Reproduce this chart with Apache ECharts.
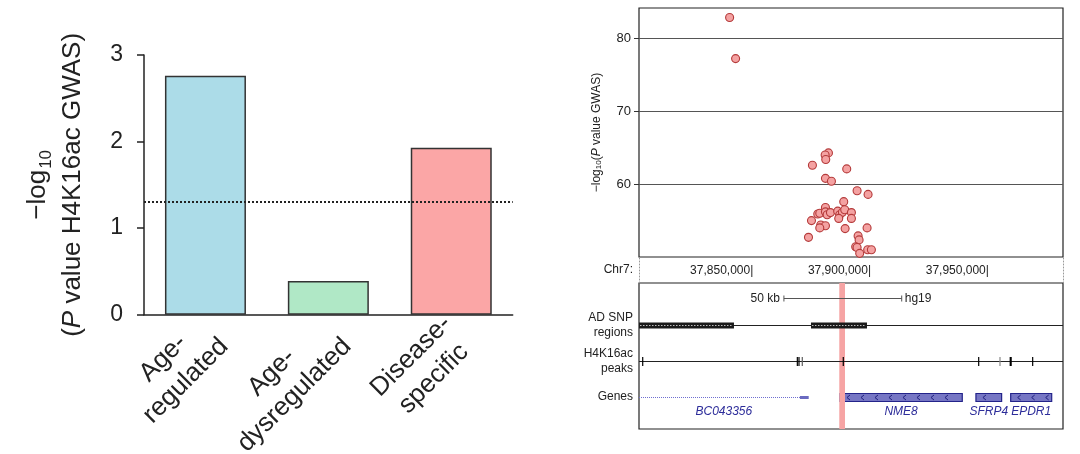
<!DOCTYPE html>
<html><head><meta charset="utf-8">
<script src="https://cdn.jsdelivr.net/npm/echarts@6/dist/echarts.min.js"></script>
<style>html,body{margin:0;padding:0;background:#fff}#c{width:1080px;height:454px}</style>
</head><body><div id="c"></div>
<script>
// ---------- DATA ----------
// Left panel: enrichment bars
const categories = ['Age-\nregulated', 'Age-\ndysregulated', 'Disease-\nspecific'];
const barValues = [2.76, 0.39, 1.93];
const significanceThreshold = 1.30;      // -log10(0.05)
const barTicks = [0, 1, 2, 3];

// Right panel: GWAS SNPs (Chr7 position, -log10 P)
const snpPositions = [37839960, 37842500, 37881900, 37880500, 37880760, 37875100, 37889660, 37880630, 37883170,
  37894060, 37898720, 37888390, 37880630, 37877370, 37878220, 37880630, 37881350, 37882750, 37885840, 37886690,
  37887840, 37888810, 37891650, 37891650, 37886270, 37874700, 37878640, 37880630, 37878220, 37888980, 37898300,
  37873430, 37894490, 37894910, 37893470, 37894060, 37898560, 37900130, 37895170];
const snpLogP = [82.9, 77.25, 64.3, 64.0, 63.4, 62.6, 62.1, 60.8, 60.4,
  59.1, 58.6, 57.6, 56.8, 55.9, 56.0, 56.2, 55.8, 56.1, 56.3, 55.8,
  56.15, 56.5, 56.1, 55.3, 55.3, 55.0, 54.4, 54.3, 54.0, 53.9, 54.0,
  52.7, 52.9, 52.35, 51.4, 51.3, 51.0, 51.0, 50.5];
const gwasTicks = [60, 70, 80];
const chrName = 'Chr7:';
const chrTicks = [37850000, 37900000, 37950000];
const viewStart = 37801500, viewEnd = 37981450;

// Browser tracks
const trackNames = ['AD SNP\nregions', 'H4K16ac\npeaks', 'Genes'];
const assembly = 'hg19';
const scaleBar = [37863000, 37913000];
const snpRegionStarts = [37801500, 37874490];
const snpRegionEnds = [37841810, 37898260];
const peakStarts = [37802900, 37868550, 37869250, 37870650, 37888050, 37945520, 37954560, 37958800, 37968430];
const peakEnds = [37803250, 37868850, 37869550, 37870950, 37888350, 37945820, 37954860, 37959700, 37968730];
const peakScores = [1000, 1000, 1000, 600, 1000, 1000, 400, 1000, 1000];
const geneNames = ['BC043356', 'NME8', 'SFRP4', 'EPDR1'];
const geneStarts = [37801500, 37886800, 37944500, 37959250];
const geneEnds = [37873520, 37938700, 37955400, 37976650];
const geneBlockStarts = [37869800, 37886800, 37944500, 37959250];
const geneCoding = [0, 1, 1, 1];
const highlightRegion = [37886500, 37888930];

// ---------- LAYOUT / STYLE ----------
const FONT = '"Liberation Sans", Arial, Helvetica, sans-serif';
const barColors = ['#acdce8', '#b0e8c6', '#fba6a6'];
const LANE = { scale: 0.41, snp: 1.15, peaks: 2.13, genes: 3.12 };
const laneValues = [LANE.snp, LANE.peaks, LANE.genes];

const chart = echarts.init(document.getElementById('c'), null, { renderer: 'canvas' });

function renderScale(params, api) {
  const s = api.coord([api.value(0), LANE.scale]);
  const e = api.coord([api.value(1), LANE.scale]);
  const y = Math.round(s[1]) + 0.5;
  const kb = Math.round((api.value(1) - api.value(0)) / 1000) + ' kb';
  return { type: 'group', children: [
    { type: 'line', shape: { x1: s[0], y1: y, x2: e[0], y2: y }, style: { stroke: '#555', lineWidth: 1 } },
    { type: 'line', shape: { x1: s[0], y1: y - 3, x2: s[0], y2: y + 3 }, style: { stroke: '#555', lineWidth: 1 } },
    { type: 'line', shape: { x1: e[0], y1: y - 3, x2: e[0], y2: y + 3 }, style: { stroke: '#555', lineWidth: 1 } },
    { type: 'text', x: s[0] - 4, y: y, style: { text: kb, fill: '#222', fontSize: 12, fontFamily: FONT, align: 'right', verticalAlign: 'middle' } },
    { type: 'text', x: e[0] + 3, y: y, style: { text: assembly, fill: '#222', fontSize: 12, fontFamily: FONT, align: 'left', verticalAlign: 'middle' } }
  ]};
}
function renderSnpRegion(params, api) {
  const s = api.coord([api.value(0), LANE.snp]);
  const e = api.coord([api.value(1), LANE.snp]);
  const cs = params.coordSys;
  const y = Math.round(s[1]) + 0.5;
  const ch = [];
  if (params.dataIndex === 0) ch.push({ type: 'line', shape: { x1: cs.x, y1: y, x2: cs.x + cs.width, y2: y }, style: { stroke: '#222', lineWidth: 1 } });
  ch.push({ type: 'rect', shape: { x: s[0], y: y - 3, width: e[0] - s[0], height: 6 }, style: { fill: '#1b1b1b' } });
  ch.push({ type: 'line', shape: { x1: s[0] + 1, y1: y, x2: e[0] - 1, y2: y }, style: { stroke: '#bdbdbd', lineWidth: 1, lineDash: [1.5, 1.5] } });
  return { type: 'group', children: ch };
}
function renderPeak(params, api) {
  const s = api.coord([api.value(0), LANE.peaks]);
  const e = api.coord([api.value(1), LANE.peaks]);
  const cs = params.coordSys;
  const y = Math.round(s[1]) + 0.5;
  const score = api.value(2);
  const ch = [];
  if (params.dataIndex === 0) ch.push({ type: 'line', shape: { x1: cs.x, y1: y, x2: cs.x + cs.width, y2: y }, style: { stroke: '#222', lineWidth: 1 } });
  const w = Math.max(1.2, e[0] - s[0]);
  const g = Math.round(255 * (1 - score / 1000) * 0.9);
  ch.push({ type: 'rect', shape: { x: (s[0] + e[0]) / 2 - w / 2, y: y - 4.5, width: w, height: 9 }, style: { fill: 'rgb(' + g + ',' + g + ',' + g + ')' } });
  return { type: 'group', children: ch };
}
function renderGene(params, api) {
  const s = api.coord([api.value(0), LANE.genes]);
  const e = api.coord([api.value(1), LANE.genes]);
  const b = api.coord([api.value(2), LANE.genes]);
  const coding = api.value(3) === 1;
  const y = Math.round(s[1]) + 0.5;
  const name = geneNames[params.dataIndex];
  const ch = [];
  if (coding) {
    ch.push({ type: 'rect', shape: { x: s[0], y: y - 4, width: e[0] - s[0], height: 8 }, style: { fill: '#7676c4', stroke: '#23238a', lineWidth: 1.2 } });
    for (let x = s[0] + 8; x < e[0] - 4; x += 14) {
      ch.push({ type: 'polyline', shape: { points: [[x + 2, y - 2.5], [x - 1, y], [x + 2, y + 2.5]] }, style: { stroke: '#20207e', lineWidth: 1, fill: null } });
    }
  } else {
    ch.push({ type: 'line', shape: { x1: s[0], y1: y, x2: b[0], y2: y }, style: { stroke: '#6f6fd0', lineWidth: 1, lineDash: [1, 1] } });
    ch.push({ type: 'rect', shape: { x: b[0], y: y - 1.5, width: e[0] - b[0], height: 3 }, style: { fill: '#6a6ac0' } });
  }
  ch.push({ type: 'text', x: (s[0] + e[0]) / 2, y: y + 8, style: { text: name, fill: '#2d2d9a', fontSize: 12, fontStyle: 'italic', fontFamily: FONT, align: 'center', verticalAlign: 'top' } });
  return { type: 'group', children: ch };
}
function renderHighlight(params, api) {
  const s = api.coord([api.value(0), 0]);
  const e = api.coord([api.value(1), 0]);
  const cs = params.coordSys;
  return { type: 'rect', shape: { x: s[0], y: cs.y, width: e[0] - s[0], height: cs.height }, style: { fill: '#f6a4a4' } };
}

const option = {
  animation: false,
  backgroundColor: '#fff',
  textStyle: { fontFamily: FONT },
  grid: [
    { left: 144, top: 55, width: 368.7, height: 259.7, outerBoundsMode: 'none', containLabel: false },
    { left: 639, top: 8, width: 424, height: 249, show: true, borderColor: '#222', borderWidth: 1.2, backgroundColor: 'transparent', outerBoundsMode: 'none', containLabel: false },
    { left: 639, top: 257, width: 424, height: 26, outerBoundsMode: 'none', containLabel: false },
    { left: 639, top: 283, width: 424, height: 146, show: true, borderColor: '#222', borderWidth: 1.2, backgroundColor: 'transparent', outerBoundsMode: 'none', containLabel: false }
  ],
  xAxis: [
    { gridIndex: 0, type: 'category', data: categories,
      axisLine: { lineStyle: { color: '#222', width: 1.5 } }, axisTick: { show: false },
      axisLabel: { interval: 0, rotate: 45, margin: 9, padding: [21, 0, 0, 0], color: '#222', fontSize: 26, lineHeight: 32,
        formatter: v => v.split('\n').map(t => '{c|' + t + '}').join('\n'),
        rich: { c: { align: 'center', fontSize: 26, lineHeight: 32, color: '#222', fontFamily: FONT } } } },
    { gridIndex: 1, type: 'value', min: viewStart, max: viewEnd,
      axisLine: { show: false }, axisTick: { show: false }, splitLine: { show: false },
      axisLabel: { customValues: chrTicks, align: 'right', margin: 8, fontSize: 12, color: '#222',
        formatter: v => v.toLocaleString('en-US') + '|' } },
    { gridIndex: 2, type: 'value', min: viewStart, max: viewEnd, show: false },
    { gridIndex: 3, type: 'value', min: viewStart, max: viewEnd, show: false }
  ],
  yAxis: [
    { gridIndex: 0, type: 'value', min: 0, max: 3, interval: 1,
      axisLine: { show: true, lineStyle: { color: '#222', width: 1.5 } },
      axisTick: { show: true, length: 7, lineStyle: { color: '#222', width: 1.5 } },
      splitLine: { show: false },
      axisLabel: { fontSize: 23, color: '#222', margin: 21, customValues: barTicks },
      name: '{a|−log}{s|10}\n{a|(}{i|P}{a| value H4K16ac GWAS)}', nameLocation: 'middle', nameGap: 54,
      nameTextStyle: { color: '#222', lineHeight: 35,
        rich: { a: { fontSize: 26, lineHeight: 35, color: '#222', fontFamily: FONT },
                i: { fontSize: 26, lineHeight: 35, color: '#222', fontStyle: 'italic', fontFamily: FONT },
                s: { fontSize: 17, lineHeight: 35, color: '#222', verticalAlign: 'bottom', padding: [0, 0, 0, 1], fontFamily: FONT } } } },
    { gridIndex: 1, type: 'value', min: 50, max: 84.2, interval: 10,
      axisLine: { show: false },
      axisTick: { show: true, length: 5, customValues: gwasTicks, lineStyle: { color: '#333' } },
      axisLabel: { customValues: gwasTicks, fontSize: 13, color: '#222', margin: 8 },
      splitLine: { show: true, lineStyle: { color: '#555', width: 1 } },
      name: '{a|−log}{s|10}{a|(}{i|P}{a| value GWAS)}', nameLocation: 'middle', nameGap: 36,
      nameTextStyle: { color: '#222',
        rich: { a: { fontSize: 12, color: '#222', fontFamily: FONT },
                i: { fontSize: 12, color: '#222', fontStyle: 'italic', fontFamily: FONT },
                s: { fontSize: 8, color: '#222', verticalAlign: 'bottom', fontFamily: FONT } } } },
    { gridIndex: 2, type: 'value', min: 0, max: 1, position: 'left',
      axisLine: { show: true, lineStyle: { color: '#999', type: [1, 2], width: 1 } },
      axisTick: { show: false }, axisLabel: { show: false }, splitLine: { show: false },
      name: chrName, nameLocation: 'middle', nameRotate: 0, nameGap: 6,
      nameTextStyle: { fontSize: 12, color: '#222', align: 'right', verticalAlign: 'middle' } },
    { gridIndex: 2, type: 'value', min: 0, max: 1, position: 'right',
      axisLine: { show: true, lineStyle: { color: '#999', type: [1, 2], width: 1 } },
      axisTick: { show: false }, axisLabel: { show: false }, splitLine: { show: false } },
    { gridIndex: 3, type: 'value', min: 0, max: 4, inverse: true,
      axisLine: { show: false }, axisTick: { show: false }, splitLine: { show: false },
      axisLabel: { customValues: laneValues, margin: 6, fontSize: 12, lineHeight: 15, color: '#222', align: 'right',
        formatter: v => { let k = 0, d = 1e9; laneValues.forEach((lv, i) => { if (Math.abs(lv - v) < d) { d = Math.abs(lv - v); k = i; } }); return trackNames[k]; } } }
  ],
  series: [
    { type: 'bar', xAxisIndex: 0, yAxisIndex: 0, barWidth: 81,
      data: barValues.map((v, i) => ({ value: v, itemStyle: { color: barColors[i], borderColor: '#333', borderWidth: 1.5 } })),
      markLine: { silent: true, symbol: ['none', 'none'], label: { show: false },
        lineStyle: { type: [2, 2], color: '#222', width: 2 }, data: [{ yAxis: significanceThreshold }] } },
    { type: 'scatter', xAxisIndex: 1, yAxisIndex: 1, symbol: 'circle', symbolSize: 8,
      itemStyle: { color: '#f4a2a2', borderColor: '#b43a3a', borderWidth: 1.1, opacity: 1 },
      data: snpPositions.map((p, i) => [p, snpLogP[i]]), z: 5 },
    { type: 'custom', xAxisIndex: 3, yAxisIndex: 4, renderItem: renderGene,
      data: geneStarts.map((s, i) => [s, geneEnds[i], geneBlockStarts[i], geneCoding[i]]), encode: { x: [0, 1] }, z: 2, silent: true },
    { type: 'custom', xAxisIndex: 3, yAxisIndex: 4, renderItem: renderHighlight, data: [highlightRegion], encode: { x: [0, 1] }, z: 3, silent: true },
    { type: 'custom', xAxisIndex: 3, yAxisIndex: 4, renderItem: renderScale, data: [scaleBar], encode: { x: [0, 1] }, z: 4, silent: true },
    { type: 'custom', xAxisIndex: 3, yAxisIndex: 4, renderItem: renderSnpRegion,
      data: snpRegionStarts.map((s, i) => [s, snpRegionEnds[i]]), encode: { x: [0, 1] }, z: 4, silent: true },
    { type: 'custom', xAxisIndex: 3, yAxisIndex: 4, renderItem: renderPeak,
      data: peakStarts.map((s, i) => [s, peakEnds[i], peakScores[i]]), encode: { x: [0, 1] }, z: 4, silent: true }
  ]
};
chart.setOption(option);
</script>
</body></html>
